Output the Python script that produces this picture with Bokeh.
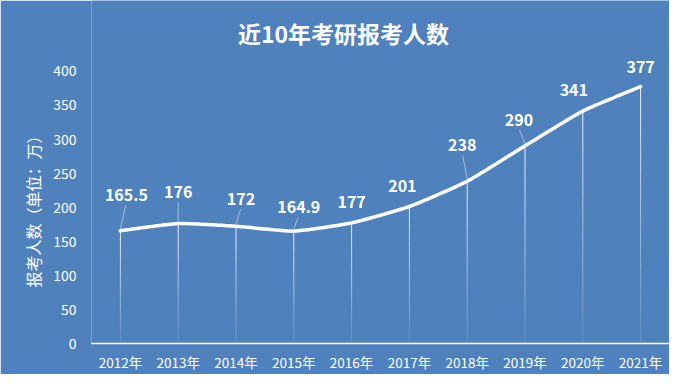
import numpy as np
from bokeh.plotting import figure
from bokeh.models import Range1d, FixedTicker, Label, Title
from bokeh.embed import file_html
from bokeh.resources import INLINE
from bokeh.core.properties import value

# ---- data ----
years = ["2012年", "2013年", "2014年", "2015年", "2016年",
         "2017年", "2018年", "2019年", "2020年", "2021年"]
applicants = [165.5, 176, 172, 164.9, 177, 201, 238, 290, 341, 377]
label_texts = ["165.5", "176", "172", "164.9", "177", "201", "238", "290", "341", "377"]
y_ticks = [0, 50, 100, 150, 200, 250, 300, 350, 400]
title_text = "近10年考研报考人数"
y_title = "报考人数（单位：万）"

# ---- layout / style ----
label_dx = [6, 0, 5, 5, 0, -7, -5, -6, -9, 0]                  # px
label_dy = [-36, -32, -27, -24, -21, -21, -36, -26, -21, -20]  # px (down positive)
BG = "#4f81bd"
FONT = "Noto Sans CJK SC"
W, H = 669, 374
ML, MR, MT, MB = 91, 0, 0, 28
FRAME_W = W - ML - MR
FRAME_H = H - MT - MB
PX_PER_X = FRAME_W / len(years)
Y_PX_PER_UNIT = 0.6875
y_end = FRAME_H / Y_PX_PER_UNIT
SMOOTH = 12.0

xs = np.arange(len(years), dtype=float)
ys = np.array(applicants, dtype=float)

p = figure(width=W, height=H, output_backend="svg", toolbar_location=None,
           x_range=Range1d(-0.5, len(years) - 0.5), y_range=Range1d(0, y_end),
           min_border_left=ML, min_border_right=MR, min_border_top=MT, min_border_bottom=MB)
p.background_fill_color = BG
p.border_fill_color = BG
p.outline_line_color = None
p.xgrid.grid_line_color = None
p.ygrid.grid_line_color = None

# axes
p.xaxis.ticker = FixedTicker(ticks=list(xs))
p.xaxis.major_label_overrides = {i: y for i, y in enumerate(years)}
p.xaxis.axis_line_color = "white"
p.xaxis.axis_line_width = 1.5
p.xaxis.major_tick_line_color = None
p.xaxis.minor_tick_line_color = None
p.xaxis.major_tick_out = 0
p.xaxis.major_tick_in = 0
p.xaxis.minor_tick_out = 0
p.xaxis.major_label_text_color = "white"
p.xaxis.major_label_text_font = FONT
p.xaxis.major_label_text_font_size = "13.5px"
p.xaxis.major_label_standoff = 8

p.yaxis.ticker = FixedTicker(ticks=y_ticks)
p.yaxis.axis_line_color = None
p.yaxis.major_tick_line_color = None
p.yaxis.minor_tick_line_color = None
p.yaxis.major_tick_out = 0
p.yaxis.major_tick_in = 0
p.yaxis.minor_tick_out = 0
p.yaxis.major_label_text_color = "white"
p.yaxis.major_label_text_font = FONT
p.yaxis.major_label_text_font_size = "14px"
p.yaxis.major_label_standoff = 15

# drop lines with fading gradient
nseg = 24
for i in range(len(xs)):
    edges = np.linspace(ys[i], 0, nseg + 1)
    alphas = np.linspace(0.9, 0.12, nseg)
    p.segment(x0=[xs[i]] * nseg, y0=edges[:-1], x1=[xs[i]] * nseg, y1=edges[1:],
              line_color="white", line_width=1, line_alpha=alphas)

# lightly smoothed line (bezier through the data points)
P = np.column_stack([xs, ys])
Pext = np.vstack([P[0], P, P[-1]])
cx, cy = [], []
t = np.linspace(0, 1, 25)
for i in range(len(P) - 1):
    p0, p1, p2, p3 = Pext[i], Pext[i + 1], Pext[i + 2], Pext[i + 3]
    c1 = p1 + (p2 - p0) / SMOOTH
    c2 = p2 - (p3 - p1) / SMOOTH
    for tt in (t if i == 0 else t[1:]):
        b = ((1 - tt) ** 3) * p1 + 3 * ((1 - tt) ** 2) * tt * c1 + 3 * (1 - tt) * tt ** 2 * c2 + tt ** 3 * p2
        cx.append(b[0]); cy.append(b[1])
p.line(cx, cy, line_color="white", line_width=3.5, line_join="round", line_cap="round")

# leader lines for labels far from their point
lx0, ly0, lx1, ly1 = [], [], [], []
for i in range(len(xs)):
    if label_dy[i] <= -24:
        lx0.append(xs[i]); ly0.append(ys[i] + 2 / Y_PX_PER_UNIT)
        lx1.append(xs[i] + label_dx[i] * 0.9 / PX_PER_X)
        ly1.append(ys[i] + (-label_dy[i] - 10) / Y_PX_PER_UNIT)
p.segment(x0=lx0, y0=ly0, x1=lx1, y1=ly1, line_color="#c8d4e6", line_width=1, line_alpha=0.7)

# data labels
p.text(x=list(xs), y=list(ys), text=label_texts, x_offset=label_dx, y_offset=label_dy,
       text_color="white", text_font=value(FONT), text_font_size="16px",
       text_font_style="bold", text_align="center", text_baseline="middle")

# chart title (screen units relative to the plot frame)
p.add_layout(Label(x=343 - ML, y=FRAME_H - 35, x_units="screen", y_units="screen",
                   text=title_text, text_color="white", text_font=FONT,
                   text_font_size="23px", text_font_style="bold",
                   text_align="center", text_baseline="middle"))

# y-axis title, rotated, on the left
p.add_layout(Title(text=y_title, align="left", offset=56, standoff=11,
                   text_color="white", text_font=FONT, text_font_size="16px",
                   text_font_style="normal"), "left")

open("out.html", "w").write(file_html(p, INLINE))
